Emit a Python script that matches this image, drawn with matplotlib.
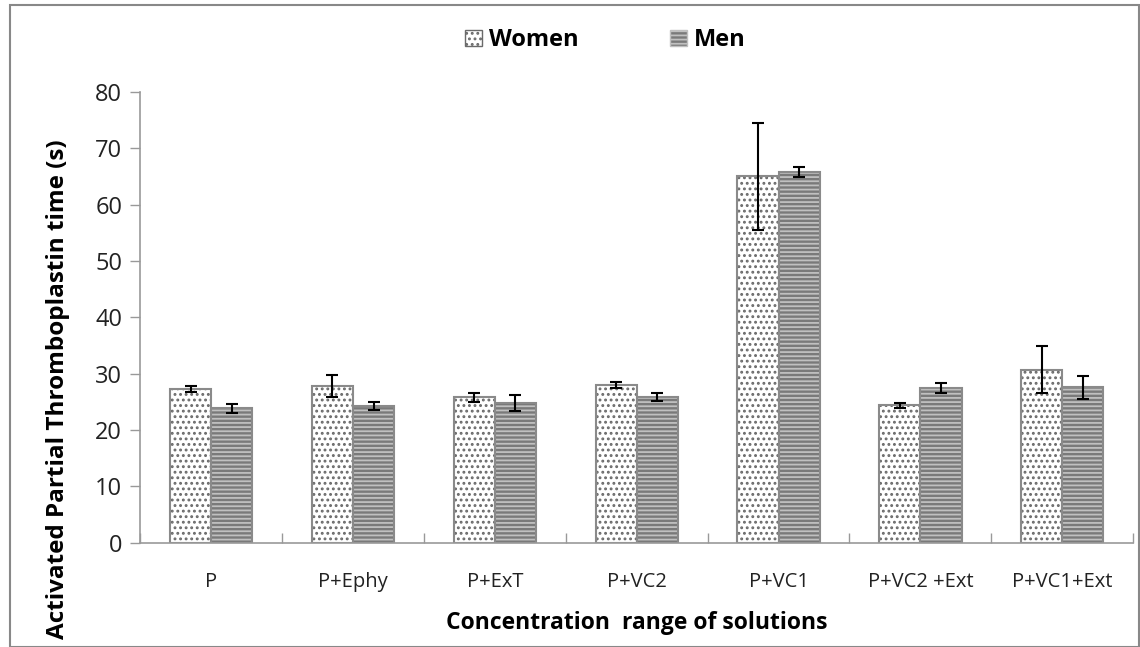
import numpy as np
import matplotlib.pyplot as plt
from matplotlib.patches import Rectangle, Patch

categories = ['P', 'P+Ephy', 'P+ExT', 'P+VC2', 'P+VC1', 'P+VC2 +Ext', 'P+VC1+Ext']
women = [27.3, 27.8, 25.8, 28.0, 65.0, 24.4, 30.7]
women_err = [0.5, 2.0, 0.8, 0.6, 9.5, 0.4, 4.2]
men = [23.9, 24.3, 24.8, 25.9, 65.8, 27.4, 27.6]
men_err = [0.8, 0.7, 1.5, 0.7, 0.9, 0.9, 2.0]

plt.rcParams['font.family'] = ['Open Sans', 'DejaVu Sans']
plt.rcParams['hatch.linewidth'] = 1.3

fig = plt.figure(figsize=(11.4, 6.47), dpi=100)
ax = fig.add_axes([0.123, 0.161, 0.871, 0.697])

x = np.arange(len(categories))
w = 0.29

# women: white with dotted pattern
ax.bar(x - w / 2, women, w, color='white', edgecolor='#6a6a6a', hatch='...', linewidth=0)
ax.bar(x - w / 2, women, w, fill=False, edgecolor='#8a8a8a', linewidth=1.5)
# men: grey with horizontal lines
ax.bar(x + w / 2, men, w, color='#7a7a7a', edgecolor='#c0c0c0', hatch='----', linewidth=0)
ax.bar(x + w / 2, men, w, fill=False, edgecolor='#8a8a8a', linewidth=1.5)

ax.errorbar(x - w / 2, women, yerr=women_err, fmt='none', ecolor='black', capsize=4.5, elinewidth=1.5, capthick=1.5)
ax.errorbar(x + w / 2, men, yerr=men_err, fmt='none', ecolor='black', capsize=4.5, elinewidth=1.5, capthick=1.5)

ax.set_xlim(-0.5, len(categories) - 0.5)
ax.set_ylim(0, 80)
ax.set_yticks(range(0, 81, 10))
ax.set_xticks(x)
ax.set_xticklabels(categories, fontsize=14.5, color='#222222')
ax.set_xticks(np.arange(-0.5, len(categories)), minor=True)
ax.tick_params(axis='x', which='major', length=0, pad=21)
ax.tick_params(axis='x', which='minor', direction='in', length=7, color='#999999', width=1)
ax.tick_params(axis='y', labelsize=17, length=7, width=1, labelcolor='#222222', color='#999999', pad=6)

for s in ['top', 'right']:
    ax.spines[s].set_visible(False)
for s in ['left', 'bottom']:
    ax.spines[s].set_color('#999999')
    ax.spines[s].set_linewidth(1.2)

ax.set_ylabel('Activated Partial Thromboplastin time (s)', fontsize=17.5, fontweight='bold')
ax.yaxis.set_label_coords(-0.071, 0.34)
ax.set_xlabel('Concentration  range of solutions', fontsize=16.5, fontweight='bold', labelpad=14)

handles = [Patch(facecolor='white', edgecolor='#6a6a6a', hatch='...', label='Women'),
           Patch(facecolor='#7a7a7a', edgecolor='#c0c0c0', hatch='----', label='Men')]
fig.legend(handles=handles, loc='center', bbox_to_anchor=(0.531, 0.938), ncol=2, frameon=False,
           prop={'weight': 'bold', 'size': 17}, handlelength=0.7, handleheight=0.7,
           handletextpad=0.3, columnspacing=3.9)

fig.patches.append(Rectangle((0.009, 0.0), 0.99, 0.992, transform=fig.transFigure,
                             fill=False, edgecolor='#888888', linewidth=1.5))

fig.savefig('out.png', dpi=100)
